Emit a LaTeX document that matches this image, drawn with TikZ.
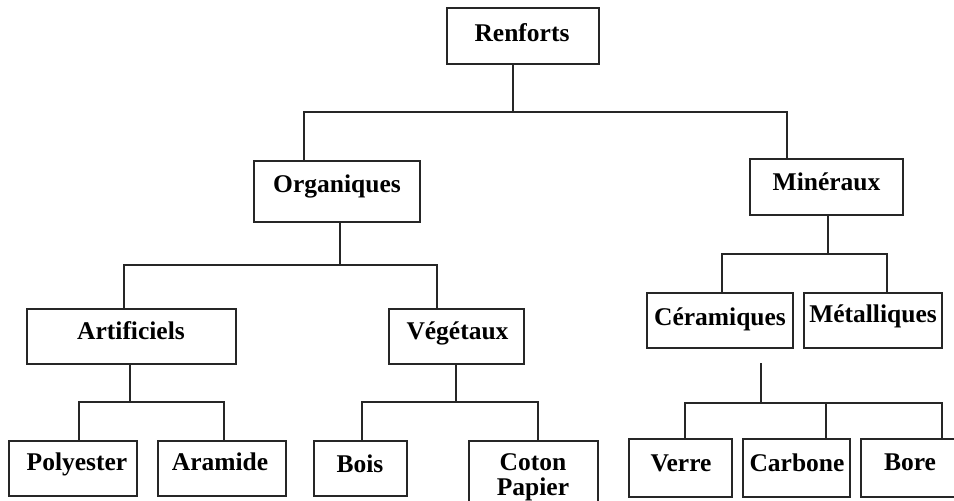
\documentclass[tikz,border=0pt]{standalone}
\usepackage{fontspec}
\setmainfont{Liberation Serif}
\usetikzlibrary{fit}
\begin{document}
\begin{tikzpicture}[x=1pt,y=-1pt,
  box/.style={draw=black!85,line width=1.8pt,inner sep=0pt,outer sep=0pt,rectangle},
  lab/.style={font=\fontsize{25.5}{28}\selectfont\bfseries,inner sep=0pt,anchor=base},
  con/.style={draw=black!85,line width=1.8pt}]
\clip (0,0) rectangle (954,501);
\fill[white] (0,0) rectangle (954,501);
% boxes
\node[box,fit={(447,8) (599,64)}] (ren) {};
\node[box,fit={(254,161) (420,222)}] (org) {};
\node[box,fit={(750,159) (903,215)}] (min) {};
\node[box,fit={(27,309) (236,364)}] (art) {};
\node[box,fit={(389,309) (524,364)}] (veg) {};
\node[box,fit={(647,293) (793,348)}] (cer) {};
\node[box,fit={(804,293) (942,348)}] (met) {};
\node[box,fit={(9,441) (137,496)}] (pol) {};
\node[box,fit={(158,441) (286,496)}] (ara) {};
\node[box,fit={(314,441) (407,496)}] (boi) {};
\node[box,fit={(469,441) (598,530)}] (cot) {};
\node[box,fit={(629,439) (732,497)}] (ver) {};
\node[box,fit={(743,439) (850,497)}] (car) {};
\node[box,fit={(861,439) (990,497)}] (bor) {};
% labels
\node[lab] (ren-t) at (522,41) {Renforts};
\node[lab] (org-t) at (337,192.5) {Organiques};
\node[lab] (min-t) at (826.5,190) {Minéraux};
\node[lab] (art-t) at (131,339) {Artificiels};
\node[lab] (veg-t) at (457.5,339) {Végétaux};
\node[lab] (cer-t) at (720,325.5) {Céramiques};
\node[lab] (met-t) at (873,322.5) {Métalliques};
\node[lab] (pol-t) at (77,470.5) {Polyester};
\node[lab] (ara-t) at (220,470.5) {Aramide};
\node[lab] (boi-t) at (360,472) {Bois};
\node[lab] (cot-t) at (533,470.5) {Coton};
\node[lab] (pap-t) at (533,495) {Papier};
\node[lab] (ver-t) at (681,471.5) {Verre};
\node[lab] (car-t) at (797,471.5) {Carbone};
\node[lab] (bor-t) at (910,470) {Bore};
% junction coordinates
\coordinate (j1) at (513,112);
\coordinate (j1l) at (304,112);
\coordinate (j1r) at (787,112);
\coordinate (j2) at (340,265);
\coordinate (j2l) at (124,265);
\coordinate (j2r) at (437,265);
\coordinate (j3) at (828,254);
\coordinate (j3l) at (722,254);
\coordinate (j3r) at (887,254);
\coordinate (j4) at (130,402);
\coordinate (j4l) at (79,402);
\coordinate (j4r) at (224,402);
\coordinate (j5) at (456,402);
\coordinate (j5l) at (362,402);
\coordinate (j5r) at (538,402);
\coordinate (j6top) at (761,363);
\coordinate (j6) at (761,403);
\coordinate (j6l) at (685,403);
\coordinate (j6m) at (826,403);
\coordinate (j6r) at (942,403);
% connectors
\draw[con] (j1 |- ren.south) -- (j1);
\draw[con] (j1l |- org.north) -- (j1l) -- (j1r) -- (j1r |- min.north);
\draw[con] (j2 |- org.south) -- (j2);
\draw[con] (j2l |- art.north) -- (j2l) -- (j2r) -- (j2r |- veg.north);
\draw[con] (j3 |- min.south) -- (j3);
\draw[con] (j3l |- cer.north) -- (j3l) -- (j3r) -- (j3r |- met.north);
\draw[con] (j4 |- art.south) -- (j4);
\draw[con] (j4l |- pol.north) -- (j4l) -- (j4r) -- (j4r |- ara.north);
\draw[con] (j5 |- veg.south) -- (j5);
\draw[con] (j5l |- boi.north) -- (j5l) -- (j5r) -- (j5r |- cot.north);
\draw[con] (j6top) -- (j6);
\draw[con] (j6l |- ver.north) -- (j6l) -- (j6r) -- (j6r |- bor.north);
\draw[con] (j6m) -- (j6m |- car.north);
\end{tikzpicture}
\end{document}
